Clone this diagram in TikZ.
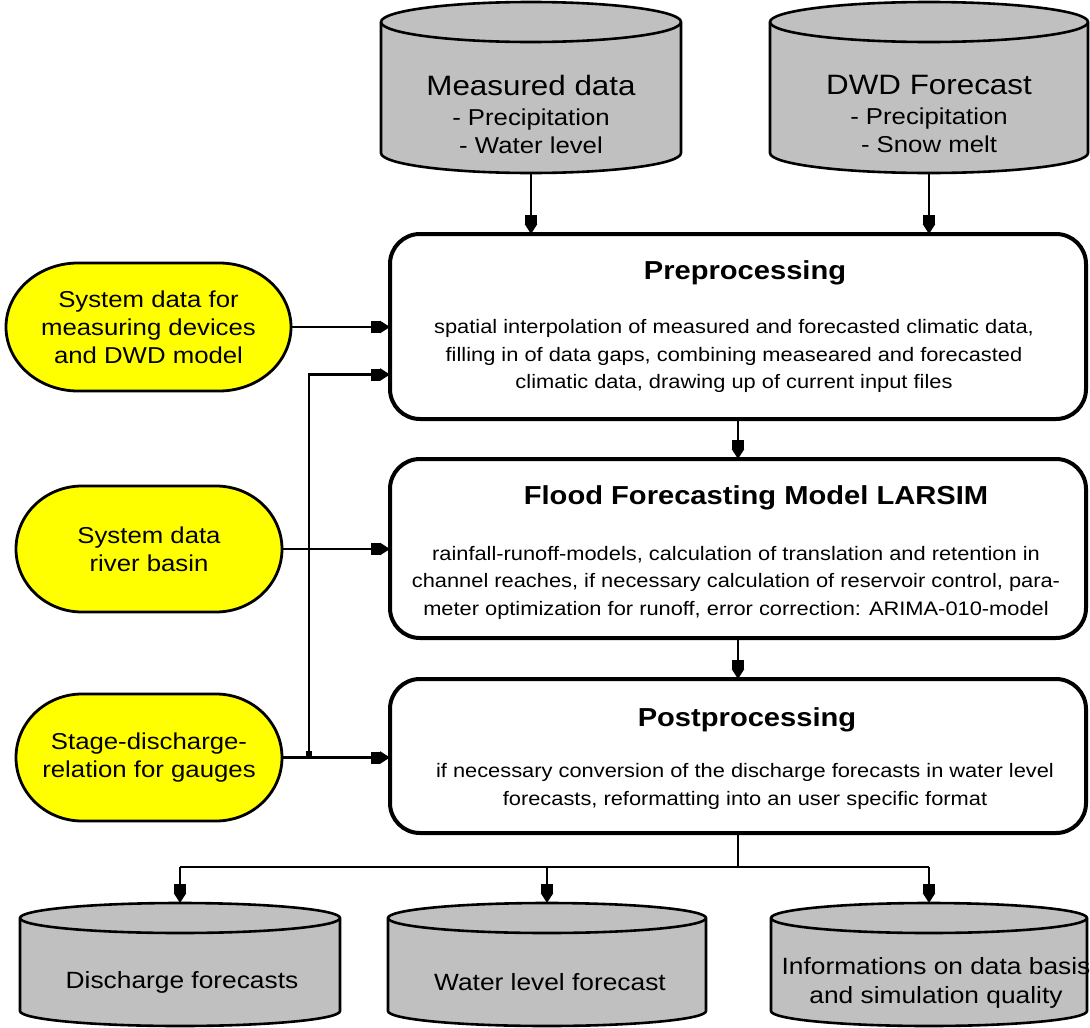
\documentclass[tikz,border=0pt]{standalone}
\usepackage{fontspec}
\setmainfont{Liberation Sans}[FakeStretch=1.12]
\usetikzlibrary{arrows.meta,backgrounds,calc}
\definecolor{drumgray}{HTML}{C0C0C0}
\definecolor{ovalyellow}{HTML}{FFFF00}

% data store drawn as an upright cylinder around an empty node
\newcommand\drum[5]{% #1 name, #2 centre, #3 width, #4 height, #5 end radius
  \node[minimum width=#3, minimum height=#4] (#1) at (#2) {};
  \filldraw[drumline] ([yshift=-#5]#1.north west) -- ([yshift=#5]#1.south west)
     arc[start angle=180, end angle=360, x radius=#3/2, y radius=#5]
     -- ([yshift=-#5]#1.north east)
     arc[start angle=0, end angle=180, x radius=#3/2, y radius=#5] -- cycle;
  \draw[drumline, fill=none] ([yshift=-#5]#1.north west)
     arc[start angle=180, end angle=360, x radius=#3/2, y radius=#5];
}

% yellow input pill: straight top and bottom, elliptic ends
\newcommand\pill[6]{% #1 name, #2 centre, #3 width, #4 height, #5 end width, #6 text
  \node[pilltext, minimum width=#3, minimum height=#4] (#1) at (#2) {#6};
  \begin{scope}[on background layer]
  \filldraw[pillline] ([xshift=#5]#1.north west) -- ([xshift=-#5]#1.north east)
     arc[start angle=90, end angle=-90, x radius=#5, y radius=#4/2]
     -- ([xshift=#5]#1.south west)
     arc[start angle=270, end angle=90, x radius=#5, y radius=#4/2] -- cycle;
  \end{scope}
}

\begin{document}
\begin{tikzpicture}[x=1pt, y=-1pt,
  every node/.style={inner sep=0pt, outer sep=0pt},
  drumline/.style={draw=black, line width=2.6pt, fill=drumgray},
  pillline/.style={draw=black, line width=2.8pt, fill=ovalyellow},
  pilltext/.style={align=center, font=\fontsize{23}{28}\selectfont},
  procbox/.style={draw=black, line width=4pt, fill=white, rounded corners=30pt,
    minimum width=696pt},
  proctitle/.style={font=\bfseries\fontsize{26}{30}\selectfont},
  procbody/.style={align=center, font=\fontsize{19.5}{27.5}\selectfont},
  drumtext/.style={align=center, font=\fontsize{23}{28}\selectfont},
  flow/.style={line width=2.6pt},
  conn/.style={flow, -{Square[length=9pt,width=12pt]Triangle[length=10pt,width=12pt]}}
]
\useasboundingbox (0,0) rectangle (1090,1028);
\begin{scope}[on background layer]
  \fill[white] (0,0) rectangle (1090,1028);
\end{scope}

% input data stores
\drum{meas}{531,87.5}{300pt}{171pt}{20pt}
\drum{dwd}{929,87.5}{318pt}{171pt}{20pt}
\node[drumtext] (meastext) at (531,114)
  {{\fontsize{28}{31}\selectfont Measured data}\\[2pt]- Precipitation\\- Water level};
\node[drumtext] (dwdtext) at (929,114)
  {{\fontsize{28}{31}\selectfont DWD Forecast}\\[2pt]- Precipitation\\- Snow melt};

% processing chain
\node[procbox, minimum height=185pt] (pre) at (738,326.5) {};
\node[procbox, minimum height=179pt] (flood) at (738,548.5) {};
\node[procbox, minimum height=154pt] (post) at (738,756) {};

\node[proctitle] (pretitle) at (745,273) {Preprocessing};
\node[procbody] (prebody) at (734,356)
  {spatial interpolation of measured and forecasted climatic data,\\
   filling in of data gaps, combining measeared and forecasted\\
   climatic data, drawing up of current input files};
\node[proctitle] (floodtitle) at (756,498) {Flood Forecasting Model LARSIM};
\node[procbody] (floodbody) at (736,582.5)
  {rainfall-runoff-models, calculation of translation and retention in\\
   channel reaches, if necessary calculation of reservoir control, para-\\
   meter optimization for runoff, error correction: ARIMA-010-model};
\node[proctitle] (posttitle) at (747,720) {Postprocessing};
\node[procbody] (postbody) at (745,786.5)
  {if necessary conversion of the discharge forecasts in water level\\
   forecasts, reformatting into an user specific format};

% system data inputs
\pill{sysmeas}{148.5,327}{285pt}{128pt}{72pt}
  {System data for\\measuring devices\\and DWD model}
\pill{sysriver}{149,549}{266pt}{126pt}{66pt}
  {System data\\river basin}
\pill{sysgauge}{149,757.5}{266pt}{127pt}{66pt}
  {Stage-discharge-\\relation for gauges}

% output data stores
\drum{disch}{180,964.5}{320pt}{123pt}{15pt}
\drum{wlevel}{547,964.5}{318pt}{123pt}{15pt}
\drum{quality}{929,964.5}{316pt}{123pt}{15pt}
\node[drumtext, font=\fontsize{23.5}{29}\selectfont] (dischtext) at (182,982) {Discharge forecasts};
\node[drumtext, font=\fontsize{23.5}{29}\selectfont] (wleveltext) at (550,982) {Water level forecast};
\node[drumtext, font=\fontsize{23.5}{29}\selectfont] (qualitytext) at (936,983)
  {Informations on data basis\\and simulation quality};

% connectors
\draw[conn] (meas.south) -- (meas.south |- pre.north);
\draw[conn] (dwd.south) -- (dwd.south |- pre.north);
\draw[conn] (pre.south) -- (flood.north);
\draw[conn] (flood.south) -- (post.north);

\draw[conn] (sysmeas.east) -- (sysmeas.east -| pre.west);
\draw[conn] (sysriver.east) -- (sysriver.east -| flood.west);
\draw[conn] (sysgauge.east) -- (sysgauge.east -| post.west);
\coordinate (branch) at ($(sysgauge.east)+(27pt,0)$);
\draw[conn] (branch) |- ([yshift=-48pt]pre.west);
\fill ([xshift=-3pt,yshift=1pt]branch) rectangle ([xshift=3pt,yshift=7pt]branch);

\draw[flow] (post.south) -- ++(0,-34pt) coordinate (split);
\draw[flow] (disch.north |- split) -- (quality.north |- split);
\draw[conn] (disch.north |- split) -- (disch.north);
\draw[conn] (wlevel.north |- split) -- (wlevel.north);
\draw[conn] (quality.north |- split) -- (quality.north);
\end{tikzpicture}
\end{document}
